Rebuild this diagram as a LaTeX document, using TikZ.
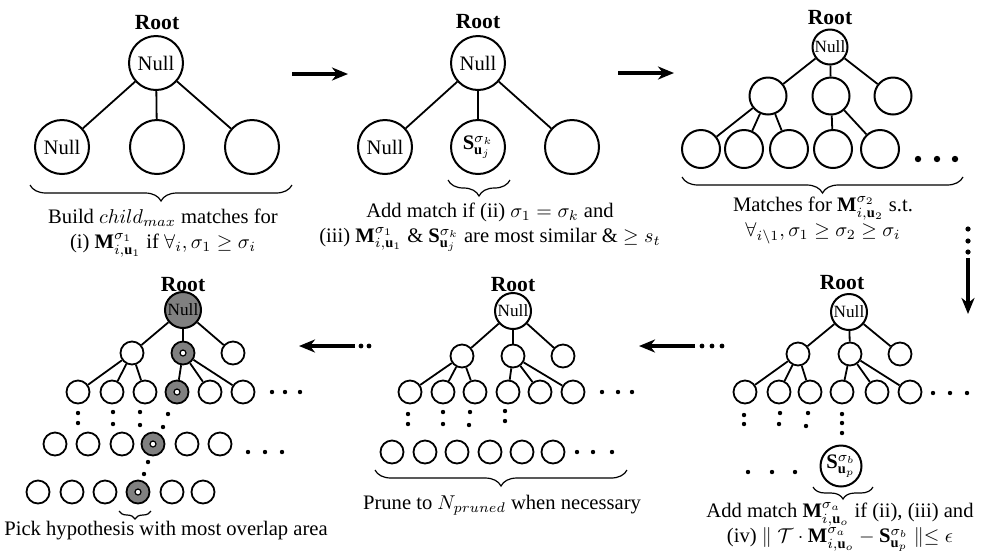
\documentclass[tikz,border=0pt]{standalone}
\usepackage{fontspec}
\setmainfont{Liberation Serif}
\usepackage{amsmath,amssymb}
\usetikzlibrary{decorations.pathreplacing}
\usetikzlibrary{arrows.meta}

\tikzset{
	txt/.style={font=\fontsize{10.3}{12.5}\selectfont, inner sep=0pt},
	caption/.style={txt, align=center},
	rootlabel/.style={font=\bfseries\fontsize{10.8}{12}\selectfont, inner sep=0pt},
	bigball/.style={circle, draw, line width=1pt, minimum size=27pt, inner sep=0pt, txt},
	midball/.style={circle, draw, line width=1pt, minimum size=18.5pt, inner sep=0pt, font=\fontsize{8.6}{10}\selectfont},
	smallball/.style={circle, draw, line width=0.9pt, minimum size=11.5pt, inner sep=0pt},
	hypball/.style={smallball, fill=gray},
	nullball/.style={midball, minimum size=18pt},
	edge/.style={line width=0.9pt},
	flowarrow/.style={line width=2.3pt, -{Stealth[length=8pt,width=6.5pt,inset=2.5pt]}},
	groupbrace/.style={decorate, decoration={brace, mirror, amplitude=#1}, line width=0.6pt},
	groupbrace/.default=8pt
}

\begin{document}
\begin{tikzpicture}[x=0.5pt,y=-0.5pt]
		\useasboundingbox (0,0) rectangle (984,553);
		% panel 1
		\node[rootlabel] (root1) at (157,23) {Root};
		\node[bigball] (r1) at (156,63) {Null};
		\node[bigball] (a11) at (62,147) {Null};
		\node[bigball] (a12) at (157,147) {};
		\node[bigball] (a13) at (252,147) {};
		\foreach \i in {1,2,3} \draw[edge] (r1) -- (a1\i);
		\draw[groupbrace] (30,185) -- (292,185);
		\node[caption] (cap1) at (163,233) {Build $child_{max}$ matches for\\(i) $\mathbf{M}^{\sigma_1}_{i,\mathbf{u}_1}$ if $\forall_i, \sigma_1 \geq \sigma_i$};
		% panel 2
		\node[rootlabel] (root2) at (478,22) {Root};
		\node[bigball] (r2) at (478,63) {Null};
		\node[bigball] (a21) at (385,147) {Null};
		\node[bigball] (a22) at (478,147) {$\mathbf{S}^{\sigma_k}_{\mathbf{u}_j}$};
		\node[bigball] (a23) at (572,147) {};
		\foreach \i in {1,2,3} \draw[edge] (r2) -- (a2\i);
		\draw[groupbrace] (448,180) -- (510,180);
		\node[caption] (cap2) at (490,227) {Add match if (ii) $\sigma_1 = \sigma_k$ and\\(iii) $\mathbf{M}^{\sigma_1}_{i,\mathbf{u}_1}$ \& $\mathbf{S}^{\sigma_k}_{\mathbf{u}_j}$ are most similar \& $\geq s_t$};
		% panel 3
		\node[rootlabel] (root3) at (830,18) {Root};
		\node[midball, minimum size=17.5pt] (r3) at (830,47) {Null};
		\foreach \x [count=\i] in {768,831,893} \node[midball] (b3\i) at (\x,96) {};
		\foreach \x [count=\i] in {701,744,789,833,880} \node[midball, minimum size=19pt] (c3\i) at (\x,149) {};
		\foreach \i in {1,2,3} \draw[edge] (r3) -- (b3\i);
		\foreach \i in {1,2,3} \draw[edge] (b31) -- (c3\i);
		\foreach \i in {4,5} \draw[edge] (b32) -- (c3\i);
		\foreach \x in {918,937,955} \fill (\x,159) circle (1.6pt);
		\draw[groupbrace] (682,177) -- (963,177);
		\node[caption] (cap3) at (823,220) {Matches for $\mathbf{M}^{\sigma_2}_{i,\mathbf{u}_2}$ s.t.\\$\forall_{i\backslash 1}, \sigma_1 \geq \sigma_2 \geq \sigma_i$};
		% panel 6
		\node[rootlabel] (root6) at (842,283) {Root};
		\node[nullball] (r6) at (849,312) {Null};
		\foreach \x [count=\i] in {798,850,900} \node[smallball] (b6\i) at (\x,354) {};
		\foreach \x [count=\i] in {745,779,810,842,877,910} \node[smallball] (c6\i) at (\x,392) {};
		\foreach \i in {1,2,3} \draw[edge] (r6) -- (b6\i);
		\foreach \i in {1,2,3} \draw[edge] (b61) -- (c6\i);
		\foreach \i in {4,5,6} \draw[edge] (b62) -- (c6\i);
		\foreach \x in {933,950,967} \fill (\x,393) circle (1.1pt);
		\foreach \x/\y in {744/415,744/424,780/413,779/424,808/413,806/426,842/414,842/423,842/433} \fill (\x,\y) circle (1.1pt);
		\node[circle, draw, line width=1pt, minimum size=20.5pt, inner sep=0pt, txt] (s6) at (841,466) {$\mathbf{S}^{\sigma_b}_{\mathbf{u}_p}$};
		\foreach \x in {748,772,795} \fill (\x,472) circle (1.1pt);
		\draw[groupbrace=6pt] (813,487) -- (873,487);
		\node[caption] (cap6) at (840,527) {Add match $\mathbf{M}^{\sigma_a}_{i,\mathbf{u}_o}$ if (ii), (iii) and\\(iv) $\parallel \mathcal{T}\cdot\mathbf{M}^{\sigma_a}_{i,\mathbf{u}_o} - \mathbf{S}^{\sigma_b}_{\mathbf{u}_p} \parallel \leq \epsilon$};
		% panel 5
		\node[rootlabel] (root5) at (513,285) {Root};
		\node[nullball] (r5) at (513,311) {Null};
		\foreach \x [count=\i] in {462,513,563} \node[smallball] (b5\i) at (\x,356) {};
		\foreach \x [count=\i] in {410,443,475,508,540,573} \node[smallball] (c5\i) at (\x,392) {};
		\foreach \x [count=\i] in {392,425,457,490,522,553} \node[smallball] (d5\i) at (\x,452) {};
		\foreach \i in {1,2,3} \draw[edge] (r5) -- (b5\i);
		\foreach \i in {1,2,3} \draw[edge] (b51) -- (c5\i);
		\foreach \i in {4,5,6} \draw[edge] (b52) -- (c5\i);
		\foreach \x in {602,618,632} \fill (\x,392) circle (1.1pt);
		\foreach \x in {577,593,612} \fill (\x,452) circle (1.1pt);
		\foreach \x/\y in {408/414,408/424,443/412,443/424,470/412,469/425,505/411,505/421} \fill (\x,\y) circle (1.1pt);
		\draw[groupbrace] (375,470) -- (627,470);
		\node[caption] (cap5) at (502,505) {Prune to $N_{pruned}$ when necessary};
		% panel 4
		\node[rootlabel] (root4) at (183,285) {Root};
		\node[nullball, fill=gray] (r4) at (183,310) {Null};
		\foreach \x/\s [count=\i] in {132/smallball,183/hypball,233/smallball} \node[\s] (b4\i) at (\x,353) {};
		\foreach \x/\s [count=\i] in {78/smallball,112/smallball,145/smallball,177/hypball,210/smallball,243/smallball} \node[\s] (c4\i) at (\x,392) {};
		\foreach \x/\s [count=\i] in {55/smallball,88/smallball,122/smallball,153/hypball,187/smallball,220/smallball} \node[\s] (d4\i) at (\x,444) {};
		\foreach \x/\s [count=\i] in {38/smallball,72/smallball,105/smallball,138/hypball,172/smallball,203/smallball} \node[\s] (e4\i) at (\x,492) {};
		\foreach \i in {1,2,3} \draw[edge] (r4) -- (b4\i);
		\foreach \i in {1,2,3} \draw[edge] (b41) -- (c4\i);
		\foreach \i in {4,5,6} \draw[edge] (b42) -- (c4\i);
		\foreach \n in {b42,c44,d44,e44} \draw[fill=white, line width=0.6pt] (\n) circle (1.5pt);
		\foreach \x in {272,285,300} \fill (\x,392) circle (1.1pt);
		\foreach \x in {248,265,282} \fill (\x,452) circle (1.1pt);
		\foreach \x/\y in {78/413,78/423,113/412,113/424,140/412,140/425,168/414,163/427,148/462,144/474} \fill (\x,\y) circle (1.1pt);
		\draw[groupbrace=4pt] (119,511) -- (151,511);
		\node[caption] (cap4) at (166,531) {Pick hypothesis with most overlap area};
		% flow arrows
		\coordinate (f1s) at (292,74);
		\coordinate (f1e) at (348,74);
		\coordinate (f2s) at (618,73);
		\coordinate (f2e) at (674,73);
		\coordinate (f3s) at (968,258);
		\coordinate (f3e) at (968,314);
		\coordinate (f4s) at (695,346);
		\coordinate (f4e) at (639,346);
		\coordinate (f5s) at (355,346);
		\coordinate (f5e) at (299,346);
		\draw[flowarrow] (f1s) -- (f1e);
		\draw[flowarrow] (f2s) -- (f2e);
		\draw[flowarrow] (f3s) -- (f3e);
		\draw[flowarrow] (f4s) -- (f4e);
		\draw[flowarrow] (f5s) -- (f5e);
		\foreach \y in {229,241,252} \fill (968,\y) circle (1.3pt);
		\foreach \x in {702,712,722} \fill (\x,346) circle (1.2pt);
		\foreach \x in {361,369} \fill (\x,346) circle (1.2pt);
\end{tikzpicture}
\end{document}
